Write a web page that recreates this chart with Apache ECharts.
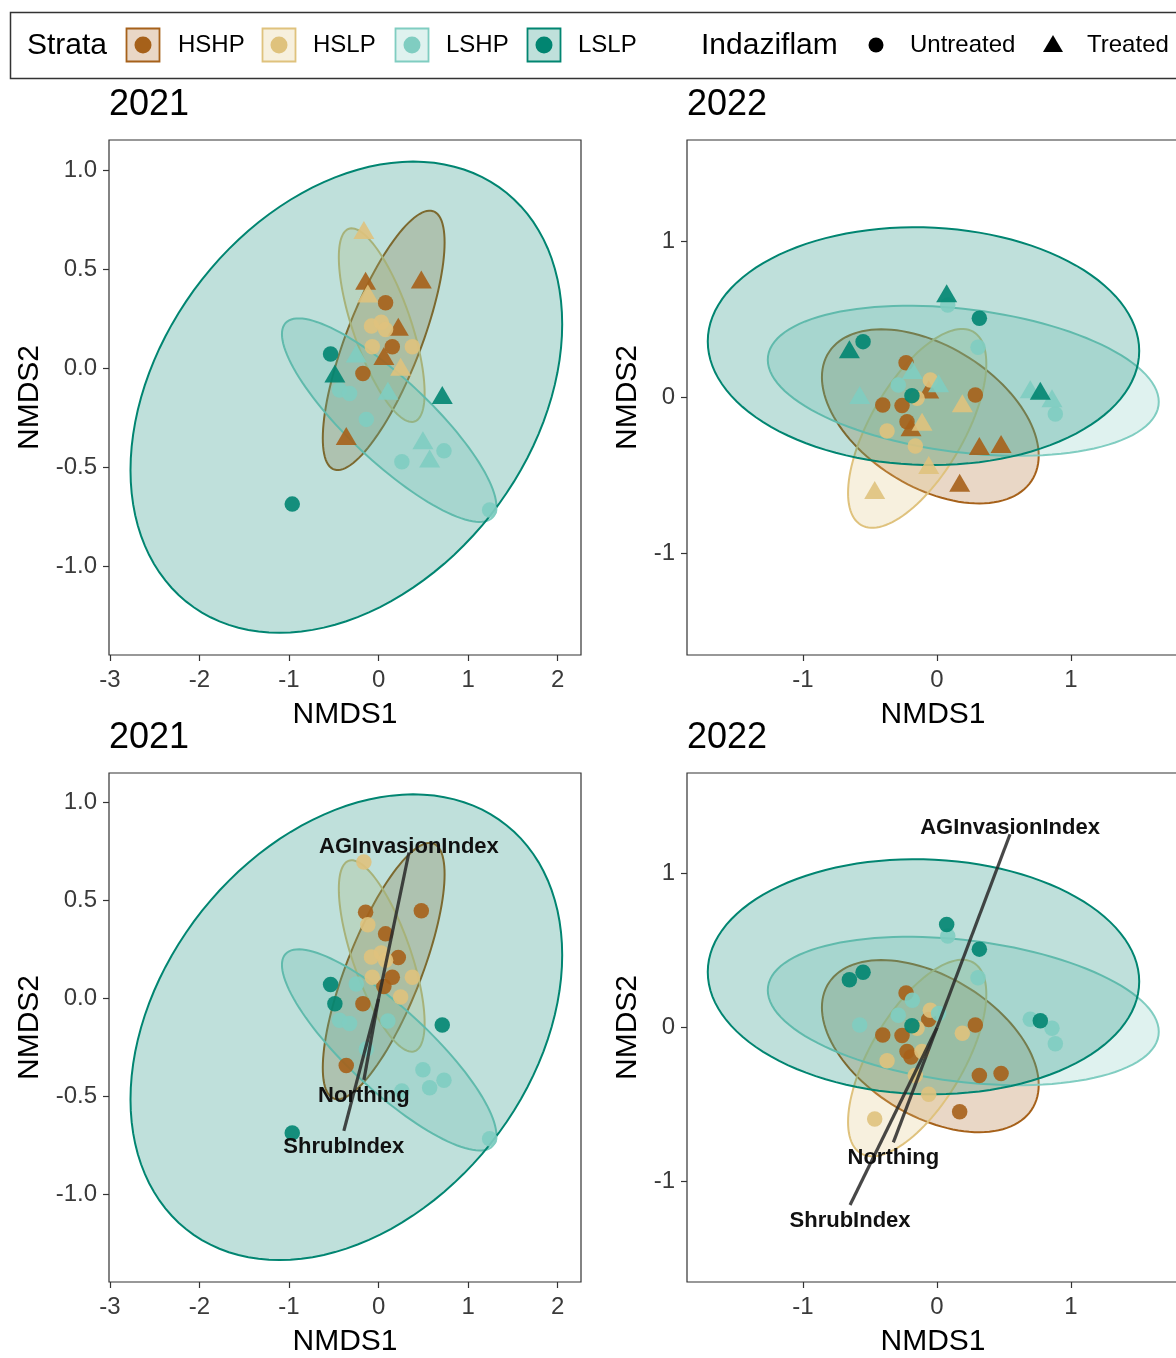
<!DOCTYPE html>
<html><head><meta charset="utf-8">
<script src="https://cdn.jsdelivr.net/npm/echarts@6/dist/echarts.min.js"></script>
<style>html,body{margin:0;padding:0;background:#fff;overflow:hidden;width:1176px;height:1358px}#chart{width:1200px;height:1358px}</style>
</head><body><div id="chart"></div>
<script>
// ---------- data ----------
const strata = ['HSHP', 'HSLP', 'LSHP', 'LSLP'];
const strataColors = ['#A6611A', '#DFC27D', '#80CDC1', '#018571'];
const treatments = ['Untreated', 'Treated'];
const panelTitles = ['2021', '2022', '2021', '2022'];

// ellipses: [centerX, centerY, halfWidth, halfHeight, correlation], strata order
const ellipses2021 = [
  [0.057, 0.140, 0.680, 0.655, 0.755],
  [0.035, 0.217, 0.479, 0.489, -0.70],
  [0.118, -0.263, 1.197, 0.514, -0.845],
  [-0.360, -0.147, 2.41, 1.19, 0.31]
];
const ellipses2022 = [
  [-0.050, -0.121, 0.809, 0.558, -0.45],
  [-0.148, -0.198, 0.516, 0.637, 0.65],
  [0.196, 0.107, 1.459, 0.481, -0.28],
  [-0.101, 0.329, 1.610, 0.762, -0.04]
];

// 2021 site scores
const hshp2021Untreated = [[0.078, 0.330], [0.153, 0.108], [-0.175, -0.027]];
const hshp2021Treated = [[-0.145, 0.441], [0.477, 0.448], [0.220, 0.209], [0.059, 0.061], [-0.361, -0.343]];
const hslp2021Untreated = [[-0.080, 0.212], [0.030, 0.232], [0.078, 0.195], [-0.070, 0.108], [0.377, 0.108]];
const hslp2021Treated = [[-0.164, 0.697], [-0.120, 0.377], [0.246, 0.007]];
const lshp2021Untreated = [[-0.436, -0.111], [-0.324, -0.128], [-0.137, -0.259], [0.260, -0.473], [0.730, -0.418], [1.240, -0.717]];
const lshp2021Treated = [[-0.249, 0.074], [0.104, -0.115], [0.495, -0.364], [0.570, -0.456]];
const lslp2021Untreated = [[-0.536, 0.071], [-0.964, -0.687]];
const lslp2021Treated = [[-0.488, -0.027], [0.711, -0.136]];

// 2022 site scores
const hshp2022Untreated = [[-0.231, 0.223], [-0.405, -0.048], [-0.261, -0.052], [-0.224, -0.155], [0.286, 0.016]];
const hshp2022Treated = [[-0.062, 0.052], [-0.194, -0.191], [0.316, -0.311], [0.478, -0.298], [0.169, -0.546]];
const hslp2022Untreated = [[-0.050, 0.112], [-0.149, -0.005], [-0.373, -0.215], [-0.162, -0.311]];
const hslp2022Treated = [[0.189, -0.037], [-0.112, -0.155], [-0.062, -0.433], [-0.465, -0.593]];
const lshp2022Untreated = [[0.080, 0.593], [0.306, 0.322], [-0.289, 0.080], [0.883, -0.106]];
const lshp2022Treated = [[-0.184, 0.176], [0.012, 0.091], [-0.577, 0.016], [0.696, 0.053], [0.858, -0.005]];
const lslp2022Untreated = [[0.316, 0.508], [-0.552, 0.358], [-0.187, 0.012]];
const lslp2022Treated = [[0.072, 0.668], [-0.654, 0.309], [0.771, 0.044]];

// environmental vectors (endpoints)
const vectorNames = ['AGInvasionIndex', 'Northing', 'ShrubIndex'];
const vectors2021 = [[0.339, 0.746], [-0.164, -0.416], [-0.388, -0.677]];
const vectors2022 = [[0.545, 1.253], [-0.326, -0.745], [-0.649, -1.151]];

// axis ticks
const xTicks2021 = [-3, -2, -1, 0, 1, 2];
const yTicks2021 = [-1.0, -0.5, 0.0, 0.5, 1.0];
const xTicks2022 = [-1, 0, 1];
const yTicks2022 = [-1, 0, 1];

// ---------- build ----------
const FONT = '"Liberation Sans", Arial, Helvetica, sans-serif';
function rgba(hex, a) {
  const n = parseInt(hex.slice(1), 16);
  return 'rgba(' + (n >> 16 & 255) + ',' + (n >> 8 & 255) + ',' + (n & 255) + ',' + a + ')';
}
const pts2021 = [[hshp2021Untreated, hshp2021Treated], [hslp2021Untreated, hslp2021Treated], [lshp2021Untreated, lshp2021Treated], [lslp2021Untreated, lslp2021Treated]];
const pts2022 = [[hshp2022Untreated, hshp2022Treated], [hslp2022Untreated, hslp2022Treated], [lshp2022Untreated, lshp2022Treated], [lslp2022Untreated, lslp2022Treated]];

const grids = [
  { left: 109, top: 140, width: 472, height: 515 },
  { left: 687, top: 140, width: 492, height: 515 },
  { left: 109, top: 773, width: 472, height: 515 },
  { left: 687, top: 773, width: 492, height: 515 }
].map(g => Object.assign(g, { show: true, borderColor: '#333', borderWidth: 1.2, backgroundColor: 'transparent', containLabel: false }));

const ranges = [
  { x: [-3.01, 2.26], y: [-1.449, 1.152], xt: xTicks2021, yt: yTicks2021, yfmt: v => v.toFixed(1) },
  { x: [-1.866, 1.806], y: [-1.65, 1.65], xt: xTicks2022, yt: yTicks2022, yfmt: v => String(v) }
];

const xAxes = [], yAxes = [];
for (let i = 0; i < 4; i++) {
  const r = ranges[i % 2];
  xAxes.push({
    type: 'value', gridIndex: i, min: r.x[0], max: r.x[1],
    axisLine: { show: false, onZero: false },
    splitLine: { show: false },
    axisTick: { show: true, customValues: r.xt, length: 6, lineStyle: { color: '#333', width: 1.2 } },
    axisLabel: { customValues: r.xt, fontSize: 24, color: '#3a3a3a', margin: 13, fontFamily: FONT, formatter: v => String(v) },
    name: 'NMDS1', nameLocation: 'middle', nameGap: 45,
    nameTextStyle: { fontSize: 30, color: '#000', fontFamily: FONT }
  });
  yAxes.push({
    type: 'value', gridIndex: i, min: r.y[0], max: r.y[1],
    axisLine: { show: false, onZero: false },
    splitLine: { show: false },
    axisTick: { show: true, customValues: r.yt, length: 6, lineStyle: { color: '#333', width: 1.2 } },
    axisLabel: { customValues: r.yt, fontSize: 24, color: '#3a3a3a', margin: 12, fontFamily: FONT, formatter: r.yfmt },
    name: 'NMDS2', nameLocation: 'middle', nameGap: i % 2 === 0 ? 64 : 44, nameRotate: 90,
    nameTextStyle: { fontSize: 30, color: '#000', fontFamily: FONT }
  });
}

function ellipseSeries(idx, ells) {
  return {
    type: 'custom', xAxisIndex: idx, yAxisIndex: idx, z: 1, clip: true, silent: true,
    data: ells.map(e => e.slice()),
    encode: { x: 0, y: 1 },
    renderItem: function (params, api) {
      const cx = api.value(0), cy = api.value(1), hw = api.value(2), hh = api.value(3), rr = api.value(4);
      const s = Math.sqrt(1 - rr * rr);
      const pts = [];
      for (let k = 0; k < 120; k++) {
        const t = 2 * Math.PI * k / 120;
        pts.push(api.coord([cx + hw * Math.cos(t), cy + hh * (rr * Math.cos(t) + s * Math.sin(t))]));
      }
      const col = strataColors[params.dataIndex];
      return { type: 'polygon', shape: { points: pts }, style: { fill: rgba(col, 0.25), stroke: col, lineWidth: 2 } };
    }
  };
}

function pointSeries(idx, pts, useShapes) {
  const out = [];
  pts.forEach((pair, s) => {
    pair.forEach((arr, t) => {
      const tri = useShapes && t === 1;
      out.push({
        type: 'scatter', name: strata[s] + ' ' + treatments[t], xAxisIndex: idx, yAxisIndex: idx, z: 2,
        data: arr, symbol: tri ? 'triangle' : 'circle', symbolSize: tri ? [21, 18] : 15.5,
        itemStyle: { color: strataColors[s], opacity: 0.9 }, silent: true
      });
    });
  });
  return out;
}

function vectorSeries(idx, vecs) {
  return {
    type: 'custom', xAxisIndex: idx, yAxisIndex: idx, z: 3, silent: true,
    data: vecs.map(v => v.slice()),
    encode: { x: 0, y: 1 },
    renderItem: function (params, api) {
      const vx = api.value(0), vy = api.value(1);
      const p0 = api.coord([0, 0]);
      const p1 = api.coord([vx, vy]);
      return {
        type: 'group', children: [
          { type: 'line', shape: { x1: p0[0], y1: p0[1], x2: p1[0], y2: p1[1] }, style: { stroke: 'rgba(40,40,40,0.85)', lineWidth: 3.2 } },
          { type: 'text', x: p1[0], y: p1[1] + (vy > 0 ? -6 : 16), z2: 10,
            style: { text: vectorNames[params.dataIndex], font: 'bold 22px ' + FONT, fill: '#111', align: 'center', verticalAlign: 'middle' } }
        ]
      };
    }
  };
}

const series = [];
series.push(ellipseSeries(0, ellipses2021));
series.push(...pointSeries(0, pts2021, true));
series.push(ellipseSeries(1, ellipses2022));
series.push(...pointSeries(1, pts2022, true));
series.push(ellipseSeries(2, ellipses2021));
series.push(...pointSeries(2, pts2021, false));
series.push(vectorSeries(2, vectors2021));
series.push(ellipseSeries(3, ellipses2022));
series.push(...pointSeries(3, pts2022, false));
series.push(vectorSeries(3, vectors2022));

const titles = grids.map((g, i) => ({
  text: panelTitles[i], left: g.left - 5, top: g.top - 58,
  textStyle: { fontSize: 36, fontWeight: 'normal', color: '#000', fontFamily: FONT }
}));

// legend drawn as graphic
const legendKeyX = [126, 262, 395, 527];
const legendTextX = [178, 313, 446, 578];
const graphic = [
  { type: 'rect', shape: { x: 10.5, y: 12.5, width: 1210, height: 66 }, style: { fill: '#fff', stroke: '#333', lineWidth: 1.5 }, z: 0 },
  { type: 'text', x: 27, y: 46, style: { text: 'Strata', font: '30px ' + FONT, fill: '#000', verticalAlign: 'middle' } },
  { type: 'text', x: 701, y: 46, style: { text: 'Indaziflam', font: '30px ' + FONT, fill: '#000', verticalAlign: 'middle' } },
  { type: 'circle', shape: { cx: 876, cy: 45, r: 7.5 }, style: { fill: '#000' } },
  { type: 'text', x: 910, y: 45, style: { text: treatments[0], font: '24px ' + FONT, fill: '#000', verticalAlign: 'middle' } },
  { type: 'polygon', shape: { points: [[1043, 52], [1063, 52], [1053, 35]] }, style: { fill: '#000' } },
  { type: 'text', x: 1087, y: 45, style: { text: treatments[1], font: '24px ' + FONT, fill: '#000', verticalAlign: 'middle' } }
];
strata.forEach((s, i) => {
  graphic.push({ type: 'rect', shape: { x: legendKeyX[i] + 0.5, y: 28.5, width: 33, height: 33 }, style: { fill: rgba(strataColors[i], 0.25), stroke: strataColors[i], lineWidth: 1.8 } });
  graphic.push({ type: 'circle', shape: { cx: legendKeyX[i] + 17, cy: 45, r: 8.5 }, style: { fill: strataColors[i] } });
  graphic.push({ type: 'text', x: legendTextX[i], y: 45, style: { text: s, font: '24px ' + FONT, fill: '#000', verticalAlign: 'middle' } });
});

const chart = echarts.init(document.getElementById('chart'), null, { renderer: 'canvas', width: 1200, height: 1358 });
chart.setOption({
  animation: false,
  backgroundColor: '#fff',
  title: titles,
  grid: grids,
  xAxis: xAxes,
  yAxis: yAxes,
  series: series,
  graphic: graphic
});
</script></body></html>
